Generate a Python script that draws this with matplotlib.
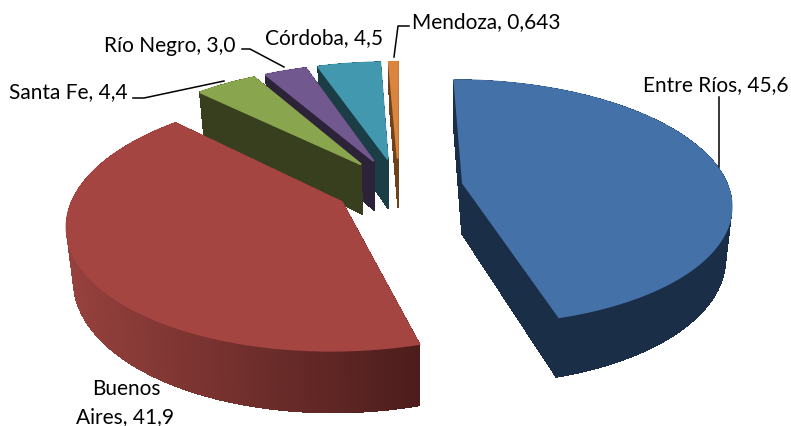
#
# Exploded 3D pie, drawn with a small perspective projection
#
import numpy as np
import matplotlib
matplotlib.use("Agg")
import matplotlib.pyplot as plt

# Data
provinces = ["Entre Ríos", "Buenos Aires", "Santa Fe", "Río Negro", "Córdoba", "Mendoza"]
values = [45.6, 41.9, 4.4, 3.0, 4.5, 0.643]
value_labels = ["45,6", "41,9", "4,4", "3,0", "4,5", "0,643"]

# Styles
top_colors = ["#4471a7", "#a54542", "#89a54e", "#71588f", "#4198af", "#db843d"]
side_colors = ["#1b2e48", "#7a2f2c", "#373f1f", "#2d2339", "#1a3d46", "#6f421c"]

# Projection settings
CX, CY = 399, 187
RX, RY = 265, 120
PERSP = 0.156
EXPLODE = 0.245
DEPTH = 51


def project(u, v):
    s = 1 / (1 + PERSP * v)
    return CX + RX * u * s, CY - RY * v * s, s


def wedge_outline(start, end):
    """Outline of one slice, angles clockwise from the top, in degrees"""
    mid = np.radians((start + end) / 2)
    ou, ov = EXPLODE * np.sin(mid), EXPLODE * np.cos(mid)
    t = np.radians(np.linspace(start, end, max(3, int(end - start) * 2)))
    u = np.concatenate([[ou], ou + np.sin(t), [ou]])
    v = np.concatenate([[ov], ov + np.cos(t), [ov]])
    return project(u, v)


def draw_slice(ax, start, end, top, side, shaded=False):
    x, y, s = wedge_outline(start, end)
    bx = 420 + (x - 420) * 0.98
    by = y + DEPTH * s
    order = np.argsort((y[:-1] + y[1:]) / 2)
    for i in order:
        color = side
        if shaded:
            # outer wall of the big slice gets darker to the right
            f = np.clip((x[i] - 70) / 350, 0, 1)
            c0 = np.array([0x96, 0x41, 0x3d]) / 255
            c1 = np.array([0x4c, 0x1d, 0x1c]) / 255
            color = c0 + (c1 - c0) * f
        ax.fill([x[i], x[i + 1], bx[i + 1], bx[i]], [y[i], y[i + 1], by[i + 1], by[i]],
                color=color, lw=0.6, antialiased=False, zorder=2)
    # thick edge hides the dark wall outline along the back rim
    ax.fill(x, y, color=top, lw=1.4, zorder=2)


fig = plt.figure(figsize=(7.91, 4.26), dpi=100)
ax = fig.add_axes([0, 0, 1, 1])
ax.set_xlim(0, 791)
ax.set_ylim(426, 0)
ax.axis("off")

# Slice angles from the values
total = sum(values)
edges = np.concatenate([[0], np.cumsum(values)]) / total * 360

# Back slices first, big red one over them
for i in [0, 5, 4, 3, 2, 1]:
    draw_slice(ax, edges[i], edges[i + 1], top_colors[i], side_colors[i], shaded=(i == 1))

# Leader lines
leaders = [
    ([719, 719], [97, 167]),
    ([409, 398, 394], [26, 26, 57]),
    ([242, 250, 284], [49, 49, 67]),
    ([133, 144, 224], [98, 98, 81]),
]
for lx, ly in leaders:
    ax.plot(lx, ly, color="black", lw=1.1, zorder=3)

# Labels
font = dict(family="Lato", fontsize=15, color="black", zorder=4, va="baseline")
ax.text(643, 91, f"{provinces[0]}, {value_labels[0]}", ha="left", **font)
ax.text(126, 395, "Buenos", ha="center", **font)
ax.text(125, 423, f"Aires, {value_labels[1]}", ha="center", **font)
ax.text(9, 98, f"{provinces[2]}, {value_labels[2]}", ha="left", **font)
ax.text(104, 52, f"{provinces[3]}, {value_labels[3]}", ha="left", **font)
ax.text(265, 44, f"{provinces[4]}, {value_labels[4]}", ha="left", **font)
ax.text(412, 28, f"{provinces[5]}, {value_labels[5]}", ha="left", **font)

fig.savefig("out.png", dpi=100)
